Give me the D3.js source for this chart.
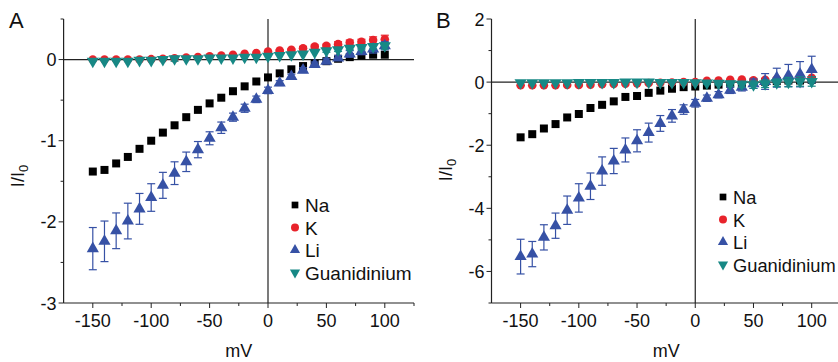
<!DOCTYPE html>
<html>
<head>
<meta charset="utf-8">
<script src="https://cdn.jsdelivr.net/npm/d3@7"></script>
<style>
  body { margin: 0; background: #fff; }
  svg text { font-family: "Liberation Sans", Arial, sans-serif; fill: #111; }
</style>
</head>
<body>
<svg id="chart" width="838" height="362"></svg>
<script>
// membrane potential steps (mV)
const mv = [-150,-140,-130,-120,-110,-100,-90,-80,-70,-60,-50,-40,-30,-20,-10,0,10,20,30,40,50,60,70,80,90,100];

// panel A
const naA = [-1.38,-1.36,-1.28,-1.20,-1.10,-1.00,-0.90,-0.81,-0.71,-0.62,-0.54,-0.47,-0.39,-0.33,-0.27,-0.22,-0.17,-0.12,-0.08,-0.05,-0.02,0.01,0.03,0.05,0.06,0.06];
const kA  = [0.0,0.0,0.0,0.0,0.0,0.005,0.01,0.015,0.025,0.03,0.04,0.05,0.06,0.07,0.08,0.10,0.11,0.12,0.14,0.16,0.17,0.19,0.21,0.22,0.24,0.25];
const kAerr = [0,0,0,0,0,0,0,0,0,0,0,0,0,0,0,0.01,0.01,0.01,0.02,0.02,0.02,0.03,0.03,0.03,0.04,0.05];
const liA = [-2.33,-2.24,-2.11,-1.99,-1.84,-1.70,-1.55,-1.40,-1.26,-1.11,-0.97,-0.84,-0.71,-0.60,-0.49,-0.38,-0.29,-0.21,-0.13,-0.06,-0.02,0.02,0.07,0.10,0.13,0.17];
const liAerr = [0.26,0.25,0.22,0.22,0.19,0.17,0.16,0.14,0.12,0.10,0.08,0.07,0.05,0.05,0.04,0.04,0.03,0.03,0.03,0.03,0.03,0.03,0.04,0.04,0.05,0.05];
const guA = [-0.02,-0.02,-0.02,-0.02,-0.01,-0.01,0.0,0.01,0.01,0.01,0.02,0.02,0.02,0.03,0.03,0.04,0.05,0.06,0.07,0.09,0.11,0.12,0.14,0.15,0.16,0.17];
const guAerr = [0,0,0,0,0,0,0,0.03,0,0,0,0,0,0,0,0,0,0,0,0,0.02,0.02,0.02,0.03,0.03,0.04];

// panel B
const naB = [-1.75,-1.65,-1.47,-1.33,-1.12,-1.01,-0.82,-0.72,-0.61,-0.47,-0.44,-0.34,-0.27,-0.21,-0.16,-0.14,-0.11,-0.08,-0.05,-0.03,-0.01,0.01,0.03,0.05,0.05,0.07];
const kB  = [-0.10,-0.10,-0.10,-0.10,-0.09,-0.09,-0.08,-0.07,-0.06,-0.05,-0.04,-0.03,-0.02,-0.01,0.0,0.0,0.04,0.05,0.07,0.08,0.06,0.07,0.10,0.13,0.14,0.14];
const liB = [-5.53,-5.45,-4.92,-4.55,-4.06,-3.67,-3.30,-2.82,-2.50,-2.15,-1.86,-1.60,-1.31,-1.07,-0.87,-0.67,-0.51,-0.40,-0.26,-0.16,-0.05,0.02,0.14,0.21,0.25,0.40];
const liBerr = [0.55,0.40,0.40,0.40,0.45,0.45,0.42,0.45,0.40,0.38,0.35,0.30,0.25,0.20,0.15,0.12,0.10,0.10,0.10,0.12,0.15,0.25,0.30,0.35,0.40,0.42];
const guB = [-0.02,-0.02,-0.02,-0.02,-0.02,-0.01,-0.01,-0.01,-0.01,0.0,0.0,0.0,-0.01,-0.01,-0.01,-0.02,-0.03,-0.04,-0.05,-0.07,-0.08,-0.05,-0.02,0.0,0.02,0.02];
const guBerr = [0,0,0,0,0,0,0,0,0,0,0,0,0,0,0,0,0.03,0.05,0.08,0.1,0.12,0.12,0.12,0.15,0.15,0.15];

const seriesNames = ["Na","K","Li","Guanidinium"];
const colors = {Na:"#000000", K:"#e8232b", Li:"#3651a5", Guanidinium:"#178885"};

const svg = d3.select("#chart");

function symbolFor(name) {
  if (name === "Na") return d3.symbol().type(d3.symbolSquare).size(64);
  if (name === "K") return d3.symbol().type(d3.symbolCircle).size(58);
  return d3.symbol().type(d3.symbolTriangle).size(64);
}

function drawPanel(p) {
  let x = d3.scaleLinear().domain([-175,125]).range(p.xRange);
  let y = d3.scaleLinear().domain(p.yDomain).range([303,19]);
  let g = svg.append("g");

  // axes lines
  let axisStroke = "#222";
  g.append("line").attr("x1",x(-175)).attr("x2",x(-175)).attr("y1",y.range()[0]).attr("y2",y.range()[1])
    .attr("stroke",axisStroke).attr("stroke-width",1.2);
  g.append("line").attr("x1",x(-175)).attr("x2",x(125)).attr("y1",y(p.yDomain[0])).attr("y2",y(p.yDomain[0]))
    .attr("stroke",axisStroke).attr("stroke-width",1.2);
  // zero lines
  g.append("line").attr("x1",x(0)).attr("x2",x(0)).attr("y1",y.range()[0]).attr("y2",y.range()[1])
    .attr("stroke",axisStroke).attr("stroke-width",1.2);
  g.append("line").attr("x1",x(-175)).attr("x2",x(125)).attr("y1",y(0)).attr("y2",y(0))
    .attr("stroke",axisStroke).attr("stroke-width",1.2);

  // x ticks
  let xMajor = [-150,-100,-50,0,50,100];
  let xMinor = [-125,-75,-25,25,75,125];
  let yb = y(p.yDomain[0]);
  g.selectAll(".xmaj").data(xMajor).enter().append("line")
    .attr("x1",d=>x(d)).attr("x2",d=>x(d)).attr("y1",yb).attr("y2",yb+5).attr("stroke",axisStroke);
  g.selectAll(".xmin").data(xMinor).enter().append("line")
    .attr("x1",d=>x(d)).attr("x2",d=>x(d)).attr("y1",yb).attr("y2",yb+3).attr("stroke",axisStroke);
  g.selectAll(".xlab").data(xMajor).enter().append("text")
    .attr("x",d=>x(d)).attr("y",327).attr("text-anchor","middle").attr("font-size",18)
    .text(d=>d);
  g.append("text").attr("x",(p.xRange[0]+p.xRange[1])/2).attr("y",357)
    .attr("text-anchor","middle").attr("font-size",18).text("mV");

  // y ticks
  let xa = x(-175);
  g.selectAll(".ymaj").data(p.yMajor).enter().append("line")
    .attr("x1",xa-5).attr("x2",xa).attr("y1",d=>y(d)).attr("y2",d=>y(d)).attr("stroke",axisStroke);
  g.selectAll(".ymin").data(p.yMinor).enter().append("line")
    .attr("x1",xa-3).attr("x2",xa).attr("y1",d=>y(d)).attr("y2",d=>y(d)).attr("stroke",axisStroke);
  g.selectAll(".ylab").data(p.yMajor).enter().append("text")
    .attr("x",xa-7).attr("y",d=>y(d)+6.5).attr("text-anchor","end").attr("font-size",18)
    .text(d=>d);

  // y title I/I0
  let yt = g.append("text").attr("transform","translate(" + p.ytX + "," + p.ytY + ") rotate(-90)")
    .attr("text-anchor","middle").attr("font-size",18);
  yt.append("tspan").text("I/I");
  yt.append("tspan").attr("font-size",13).attr("dy",4).text("0");

  // panel letter
  g.append("text").attr("x",p.letterX).attr("y",28).attr("font-size",22).text(p.letter);

  // series
  p.series.forEach(function (s) {
    let pts = mv.map((v,i) => ({x:v, y:s.values[i], e: s.err ? s.err[i] : 0}));
    let col = colors[s.name];
    let eb = g.append("g").attr("stroke",col).attr("stroke-width",1.2);
    pts.filter(d => d.e > 0).forEach(function (d) {
      eb.append("line").attr("x1",x(d.x)).attr("x2",x(d.x)).attr("y1",y(d.y-d.e)).attr("y2",y(d.y+d.e));
      eb.append("line").attr("x1",x(d.x)-4).attr("x2",x(d.x)+4).attr("y1",y(d.y-d.e)).attr("y2",y(d.y-d.e));
      eb.append("line").attr("x1",x(d.x)-4).attr("x2",x(d.x)+4).attr("y1",y(d.y+d.e)).attr("y2",y(d.y+d.e));
    });
    g.append("g").selectAll("path").data(pts).enter().append("path")
      .attr("d",symbolFor(s.name))
      .attr("fill",col)
      .attr("transform",d => "translate(" + x(d.x) + "," + y(d.y) + ")" + (s.name === "Guanidinium" ? " rotate(180)" : ""));
  });

  // legend
  seriesNames.forEach(function (name, i) {
    let ly = p.legY + i*22.5;
    g.append("path").attr("d",d3.symbol().type(name==="Na"?d3.symbolSquare:name==="K"?d3.symbolCircle:d3.symbolTriangle).size(name==="K"?50:45))
      .attr("fill",colors[name])
      .attr("transform","translate(" + p.legX + "," + ly + ")" + (name==="Guanidinium" ? " rotate(180)" : ""));
    g.append("text").attr("x",p.legX+10).attr("y",ly+7).attr("font-size",p.legFont).text(name);
  });
}

drawPanel({
  letter:"A", letterX:9,
  xRange:[63.6,414],
  yDomain:[-3,0.5],
  yMajor:[-3,-2,-1,0], yMinor:[-2.5,-1.5,-0.5,0.5],
  ytX:24, ytY:176,
  legX:295, legY:205, legFont:19,
  series:[
    {name:"Na", values:naA},
    {name:"K", values:kA, err:kAerr},
    {name:"Li", values:liA, err:liAerr},
    {name:"Guanidinium", values:guA, err:guAerr}
  ]
});

drawPanel({
  letter:"B", letterX:436,
  xRange:[491.5,840.8],
  yDomain:[-7,2],
  yMajor:[-6,-4,-2,0,2], yMinor:[-7,-5,-3,-1,1],
  ytX:452, ytY:170,
  legX:723, legY:197, legFont:18.3,
  series:[
    {name:"Na", values:naB},
    {name:"K", values:kB},
    {name:"Li", values:liB, err:liBerr},
    {name:"Guanidinium", values:guB, err:guBerr}
  ]
});
</script>
</body>
</html>
